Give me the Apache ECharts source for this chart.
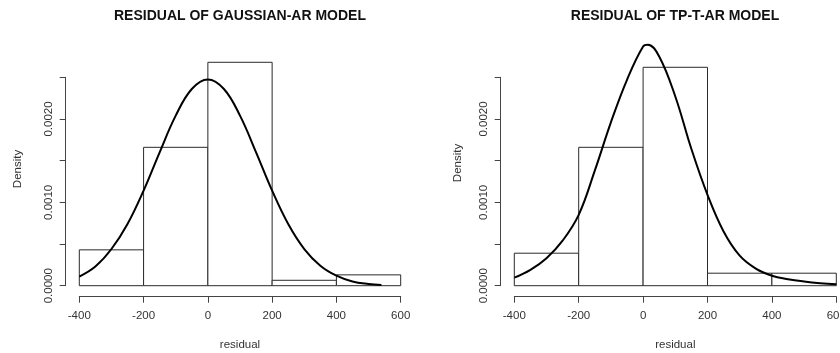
<!DOCTYPE html>
<html>
<head>
<meta charset="utf-8">
<title>Residual histograms</title>
<script src="https://cdn.jsdelivr.net/npm/echarts@6/dist/echarts.min.js"></script>
<style>
  html, body { margin: 0; padding: 0; background: #fff; }
  #chart { width: 840px; height: 353px; }
</style>
</head>
<body>
<div id="chart"></div>
<script>
// histogram bins shared by both panels
const binEdges = [-400, -200, 0, 200, 400, 600];
const gaussHist = [0.00043, 0.00166, 0.00268, 0.000065, 0.00013];
const tpHist = [0.00039, 0.00166, 0.00262, 0.00015, 0.00015];

// fitted density curves
const gaussCurveX = [-400, -350, -300, -250, -200, -150, -100, -50, 0, 50, 100, 150, 200, 250, 300, 350, 400, 450, 500, 540];
const gaussCurveY = [0.00011, 0.00023, 0.00044, 0.00074, 0.00114, 0.0016, 0.00204, 0.00236, 0.002475, 0.00236, 0.00204, 0.0016, 0.00114, 0.00074, 0.00044, 0.00024, 0.00012, 0.00005, 0.00002, 0.000008];
const tpCurveX = [-400, -350, -300, -250, -200, -150, -100, -50, 0, 15, 50, 100, 150, 200, 250, 300, 350, 400, 450, 500, 550, 600];
const tpCurveY = [0.000096, 0.00019, 0.00033, 0.00054, 0.00085, 0.00138, 0.00196, 0.00247, 0.00287, 0.00289, 0.00275, 0.00227, 0.00164, 0.00109, 0.00065, 0.00036, 0.000205, 0.00012, 0.000078, 0.00005, 0.00003, 0.000017];

const titles = ['RESIDUAL OF GAUSSIAN-AR MODEL', 'RESIDUAL OF TP-T-AR MODEL'];
const xName = 'residual';
const yName = 'Density';

const FONT = "'Liberation Sans', Arial, sans-serif";
const INK = '#333';

// layout of the two R panels (pixel boxes of the -400..600 / 0..0.0025 span)
const panels = [
    {left: 79.3, width: 321.4, title: [240, 16], ylab: [18, 169]},
    {left: 514.3, width: 322, title: [675, 16], ylab: [458, 163]}
];
const gridTop = 77.3;
const gridHeight = 208.4;

function histItem(params, api) {
    const lo = api.coord([api.value(0), 0]);
    const hi = api.coord([api.value(1), api.value(2)]);
    return {
        type: 'rect',
        shape: {x: lo[0], y: hi[1], width: hi[0] - lo[0], height: lo[1] - hi[1]},
        style: {fill: '#fff', stroke: '#2a2a2a', lineWidth: 1}
    };
}

function zip(xs, ys) {
    return xs.map((x, i) => [x, ys[i]]);
}

const hists = [gaussHist, tpHist];
const curves = [zip(gaussCurveX, gaussCurveY), zip(tpCurveX, tpCurveY)];

const option = {
    animation: false,
    backgroundColor: '#fff',
    grid: panels.map(p => ({
        left: p.left,
        width: p.width,
        top: gridTop,
        height: gridHeight,
        outerBoundsMode: 'none'
    })),
    xAxis: panels.map((p, i) => ({
        type: 'value',
        gridIndex: i,
        min: -400,
        max: 600,
        interval: 200,
        offset: 11,
        name: xName,
        nameLocation: 'middle',
        nameGap: 42,
        nameTextStyle: {fontFamily: FONT, fontSize: 11.5, color: INK},
        axisLine: {show: true, onZero: false, lineStyle: {color: '#444', width: 1}},
        axisTick: {show: true, length: 6, lineStyle: {color: '#444'}},
        axisLabel: {fontFamily: FONT, fontSize: 11.5, color: INK, margin: 13, hideOverlap: false},
        splitLine: {show: false}
    })),
    yAxis: panels.map((p, i) => ({
        type: 'value',
        gridIndex: i,
        min: 0,
        max: 0.0025,
        interval: 0.0005,
        offset: 13.6,
        axisLine: {show: true, onZero: false, lineStyle: {color: '#444', width: 1}},
        axisTick: {show: true, length: 6, lineStyle: {color: '#444'}},
        axisLabel: {
            fontFamily: FONT,
            fontSize: 11.5,
            color: INK,
            rotate: 90,
            margin: 11,
            // R drops the labels that would collide
            formatter: v => (Math.round(v * 10000) % 10 === 0 ? v.toFixed(4) : '')
        },
        splitLine: {show: false}
    })),
    series: [
        ...hists.map((h, i) => ({
            type: 'custom',
            xAxisIndex: i,
            yAxisIndex: i,
            clip: false,
            z: 2,
            renderItem: histItem,
            encode: {x: [0, 1], y: 2},
            data: h.map((d, k) => [binEdges[k], binEdges[k + 1], d])
        })),
        ...curves.map((c, i) => ({
            type: 'line',
            xAxisIndex: i,
            yAxisIndex: i,
            clip: false,
            z: 3,
            smooth: 0.4,
            symbol: 'none',
            lineStyle: {color: '#000', width: 2},
            data: c
        }))
    ],
    graphic: [
        ...panels.map((p, i) => ({
            type: 'text',
            x: p.title[0],
            y: p.title[1],
            style: {
                text: titles[i],
                align: 'center',
                verticalAlign: 'middle',
                font: `bold 14px ${FONT}`,
                fill: '#111'
            }
        })),
        ...panels.map(p => ({
            type: 'text',
            x: p.ylab[0],
            y: p.ylab[1],
            rotation: Math.PI / 2,
            style: {
                text: yName,
                align: 'center',
                verticalAlign: 'middle',
                font: `11.5px ${FONT}`,
                fill: INK
            }
        }))
    ]
};

const chart = echarts.init(document.getElementById('chart'), null, {renderer: 'canvas'});
chart.setOption(option);
</script>
</body>
</html>
